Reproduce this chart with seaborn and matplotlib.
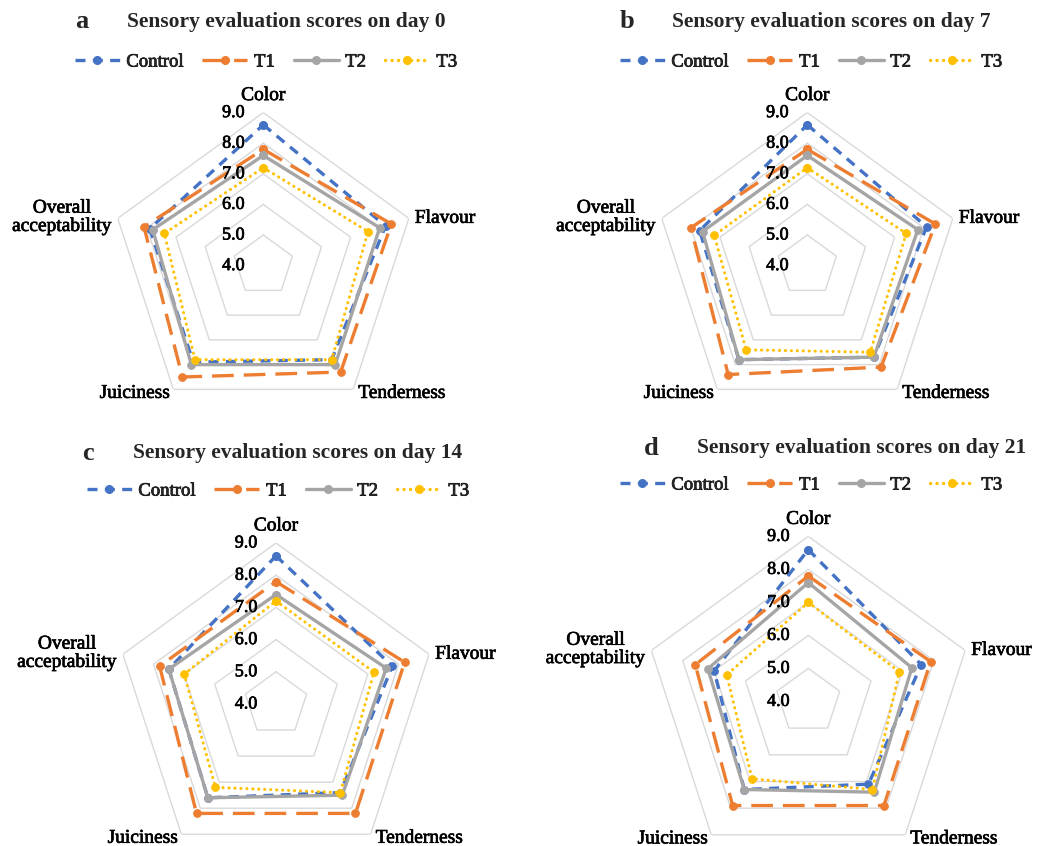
import numpy as np
import pandas as pd
import matplotlib
matplotlib.use("Agg")
import matplotlib.pyplot as plt
import matplotlib.patheffects as pe
from matplotlib.lines import Line2D
import seaborn as sns

# ---- data -------------------------------------------------------------
categories = ["Color", "Flavour", "Tenderness", "Juiciness", "Overall\nacceptability"]
groups = ["Control", "T1", "T2", "T3"]
radial_ticks = [4.0, 5.0, 6.0, 7.0, 8.0, 9.0]

day0_control = [8.6, 8.2, 7.8, 7.9, 7.9]
day0_t1 = [7.8, 8.4, 8.3, 8.5, 8.1]
day0_t2 = [7.6, 8.0, 8.0, 8.0, 7.8]
day0_t3 = [7.2, 7.6, 7.8, 7.8, 7.4]

day7_control = [8.6, 8.1, 7.7, 7.8, 7.7]
day7_t1 = [7.8, 8.4, 8.1, 8.4, 8.0]
day7_t2 = [7.6, 7.8, 7.7, 7.8, 7.6]
day7_t3 = [7.2, 7.4, 7.5, 7.4, 7.2]

day14_control = [8.6, 7.8, 7.4, 7.6, 7.5]
day14_t1 = [7.8, 8.2, 8.2, 8.2, 7.8]
day14_t2 = [7.4, 7.6, 7.5, 7.6, 7.5]
day14_t3 = [7.2, 7.2, 7.4, 7.2, 7.0]

day21_control = [8.6, 7.6, 7.1, 7.3, 7.0]
day21_t1 = [7.8, 7.9, 7.9, 7.9, 7.6]
day21_t2 = [7.6, 7.3, 7.4, 7.3, 7.2]
day21_t3 = [7.0, 6.9, 7.3, 6.9, 6.6]

panels = [
    ("a", "Sensory evaluation scores on day 0", [day0_control, day0_t1, day0_t2, day0_t3]),
    ("b", "Sensory evaluation scores on day 7", [day7_control, day7_t1, day7_t2, day7_t3]),
    ("c", "Sensory evaluation scores on day 14", [day14_control, day14_t1, day14_t2, day14_t3]),
    ("d", "Sensory evaluation scores on day 21", [day21_control, day21_t1, day21_t2, day21_t3]),
]

# ---- styling ----------------------------------------------------------
palette = {"Control": "#4472C4", "T1": "#ED7D31", "T2": "#A5A5A5", "T3": "#FFC000"}
dashes = {"Control": (3.0, 2.2), "T1": (6.5, 3.0), "T2": "", "T3": (0.05, 1.9)}
markers = {"Control": "o", "T1": "o", "T2": "o", "T3": "o"}
grid_color = "#D9D9D9"
heavy = [pe.withStroke(linewidth=0.5, foreground="black")]

sns.set_theme(style="white")
plt.rcParams["font.family"] = ["Liberation Serif", "DejaVu Serif"]

W, H = 1048, 846
fig = plt.figure(figsize=(W / 100, H / 100), dpi=100)
fig.patch.set_facecolor("white")

# layout in pixels: radar centre, outer radius, title row, legend row
layout = [
    dict(cx=263.3, cy=265.6, R=153, letter_x=75, title_x=127, title_y=22, leg_x=266, leg_y=62),
    dict(cx=807.3, cy=265.6, R=153, letter_x=620, title_x=672, title_y=22, leg_x=811, leg_y=62),
    dict(cx=276.0, cy=704.0, R=161, letter_x=82, title_x=133, title_y=453, leg_x=278, leg_y=491),
    dict(cx=808.3, cy=701.4, R=165, letter_x=644, title_x=697, title_y=448, leg_x=811, leg_y=485),
]

n_cat = len(categories)
theta = np.linspace(0, 2 * np.pi, n_cat, endpoint=False)
theta_closed = np.append(theta, 2 * np.pi)


def fx(px):
    return px / W


def fy(py):
    return 1 - py / H


for (letter, title, series), lay in zip(panels, layout):
    cx, cy, R = lay["cx"], lay["cy"], lay["R"]
    ax = fig.add_axes([fx(cx - R), fy(cy + R), 2 * R / W, 2 * R / H], projection="polar")
    ax.set_theta_zero_location("N")
    ax.set_theta_direction(-1)
    ax.patch.set_alpha(0)
    ax.spines["polar"].set_visible(False)
    ax.grid(False)

    # pentagon rings
    for r in radial_ticks[1:]:
        ax.plot(theta_closed, [r] * len(theta_closed), color=grid_color, lw=1.0, zorder=1)

    rows = []
    for g, vals in zip(groups, series):
        closed = list(vals) + [vals[0]]
        for t, v in zip(theta_closed, closed):
            rows.append({"theta": t, "score": v, "group": g})
    df = pd.DataFrame(rows)

    n_before = len(ax.lines)
    sns.lineplot(data=df, x="theta", y="score", hue="group", style="group",
                 hue_order=groups, style_order=groups, palette=palette,
                 dashes=dashes, markers=markers, sort=False, estimator=None,
                 legend=False, ax=ax, linewidth=2.4, markersize=5.5, zorder=3)
    for g, line in zip(groups, ax.lines[n_before:]):
        line.set_markeredgecolor(palette[g])
        line.set_clip_on(False)
        if g == "T3":
            line.set_dash_capstyle("round")
            line.set_linewidth(2.2)
        else:
            line.set_dash_capstyle("butt")

    ax.set_ylim(radial_ticks[0], radial_ticks[-1])
    ax.set_xticks([])
    ax.set_yticks([])
    ax.set_xlabel("")
    ax.set_ylabel("")

    # radial value labels along the top spoke
    for r in radial_ticks:
        ax.annotate(f"{r:.1f}", xy=(0, r), xytext=(-19, 0), textcoords="offset pixels",
                    ha="right", va="center", fontsize=13, color="black",
                    annotation_clip=False, path_effects=heavy)

    # category labels around the outer ring
    rmax = radial_ticks[-1]
    offsets = [((0, 17), "center", "center"),
               ((6, 0), "left", "center"),
               ((5, -4), "left", "center"),
               ((-3, -4), "right", "center"),
               ((-6, 1), "right", "center")]
    for t, cat, (off, ha, va) in zip(theta, categories, offsets):
        ax.annotate(cat, xy=(t, rmax), xytext=off, textcoords="offset pixels",
                    ha=ha, va=va, fontsize=14, color="black", multialignment="center",
                    annotation_clip=False, linespacing=1.1, path_effects=heavy)

    # panel title
    fig.text(fx(lay["letter_x"]), fy(lay["title_y"]), letter, fontsize=19,
             fontweight="bold", ha="left", va="center")
    fig.text(fx(lay["title_x"]), fy(lay["title_y"]), title, fontsize=15.5,
             fontweight="bold", ha="left", va="center")

    # legend row
    handles = []
    for g in groups:
        ls = "-" if dashes[g] == "" else (0, dashes[g])
        h = Line2D([], [], color=palette[g], linestyle=ls, linewidth=2.4,
                   marker="o", markersize=5.5, markeredgecolor=palette[g],
                   dash_capstyle="round" if g == "T3" else "butt")
        handles.append(h)
    leg = fig.legend(handles, groups, loc="center",
                     bbox_to_anchor=(fx(lay["leg_x"]), fy(lay["leg_y"])),
                     ncol=4, frameon=False, fontsize=13.5, handlelength=2.4,
                     handletextpad=0.35, columnspacing=1.0, numpoints=1)
    for txt in leg.get_texts():
        txt.set_path_effects(heavy)

fig.savefig("out.png", dpi=100, facecolor="white")
